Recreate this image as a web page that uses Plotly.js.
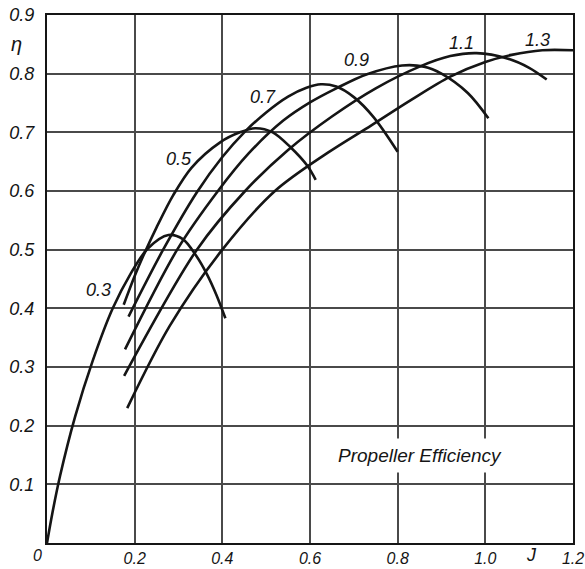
<!DOCTYPE html>
<html>
<head>
<meta charset="utf-8">
<script src="https://cdn.plot.ly/plotly-3.0.1.min.js"></script>
<style>
  html, body { margin: 0; padding: 0; background: #ffffff; }
  #chart { width: 585px; height: 569px; }
</style>
</head>
<body>
<div id="chart"></div>
<script>
// Propeller efficiency η against advance ratio J, one curve per pitch ratio.
const pitchRatios = ['0.3', '0.5', '0.7', '0.9', '1.1', '1.3'];

const J_03   = [0, 0.012, 0.03, 0.064, 0.104, 0.15, 0.19, 0.23, 0.277, 0.31, 0.34, 0.365, 0.387, 0.407];
const eta_03 = [0, 0.05, 0.115, 0.215, 0.31, 0.4, 0.458, 0.502, 0.525, 0.518, 0.49, 0.458, 0.422, 0.383];

const J_05   = [0.175, 0.2, 0.22, 0.25, 0.288, 0.33, 0.395, 0.44, 0.475, 0.515, 0.555, 0.594, 0.613];
const eta_05 = [0.406, 0.455, 0.49, 0.538, 0.593, 0.64, 0.683, 0.700, 0.707, 0.7, 0.675, 0.643, 0.619];

const J_07   = [0.186, 0.265, 0.342, 0.40, 0.45, 0.50, 0.55, 0.592, 0.625, 0.66, 0.70, 0.745, 0.80];
const eta_07 = [0.386, 0.5, 0.598, 0.658, 0.7, 0.734, 0.761, 0.776, 0.782, 0.778, 0.76, 0.726, 0.667];

const J_09   = [0.178, 0.297, 0.39, 0.46, 0.539, 0.60, 0.66, 0.73, 0.81, 0.86, 0.90, 0.96, 1.007];
const eta_09 = [0.33, 0.5, 0.6, 0.664, 0.72, 0.751, 0.775, 0.799, 0.814, 0.812, 0.80, 0.767, 0.724];

const J_11   = [0.176, 0.342, 0.452, 0.55, 0.65, 0.75, 0.85, 0.92, 0.98, 1.05, 1.10, 1.14];
const eta_11 = [0.285, 0.5, 0.6, 0.67, 0.727, 0.775, 0.812, 0.83, 0.835, 0.826, 0.81, 0.79];

const J_13   = [0.183, 0.28, 0.40, 0.52, 0.64, 0.74, 0.83, 0.92, 1.00, 1.06, 1.13, 1.2];
const eta_13 = [0.23, 0.37, 0.5, 0.6, 0.665, 0.712, 0.755, 0.795, 0.82, 0.832, 0.84, 0.84];

const jTicks    = [0, 0.2, 0.4, 0.6, 0.8, 1.0, 1.2];
const jLabels   = ['', '0.2', '0.4', '0.6', '0.8', '1.0', '1.2'];
const etaTicks  = [0.1, 0.2, 0.3, 0.4, 0.5, 0.6, 0.7, 0.8, 0.9];
const etaLabels = ['0.1', '0.2', '0.3', '0.4', '0.5', '0.6', '0.7', '0.8', '0.9'];

const curveJ   = [J_03, J_05, J_07, J_09, J_11, J_13];
const curveEta = [eta_03, eta_05, eta_07, eta_09, eta_11, eta_13];

const INK = '#151515';
const FONT = 'Liberation Sans Narrow, Liberation Sans, sans-serif';

const traces = pitchRatios.map((p, i) => ({
  type: 'scatter',
  mode: 'lines',
  name: p,
  x: curveJ[i],
  y: curveEta[i],
  line: { color: INK, width: 2.6, shape: 'spline', smoothing: 0.9 },
  hoverinfo: 'skip',
  showlegend: false
}));

// where each pitch-ratio tag sits next to its curve
const tagAt = {
  '0.3': [0.117, 0.431],
  '0.5': [0.300, 0.655],
  '0.7': [0.493, 0.760],
  '0.9': [0.706, 0.823],
  '1.1': [0.945, 0.852],
  '1.3': [1.120, 0.857]
};

const italic = (size) => ({ family: FONT, size: size, color: INK, style: 'italic' });

const annotations = pitchRatios.map(p => ({
  x: tagAt[p][0], y: tagAt[p][1], xref: 'x', yref: 'y',
  text: p, showarrow: false, font: italic(18)
}));

annotations.push(
  { x: 0.85, y: 0.149, xref: 'x', yref: 'y', text: 'Propeller Efficiency',
    showarrow: false, font: italic(19), bgcolor: '#ffffff', borderpad: 6 },
  { x: 0, y: 0, xref: 'x', yref: 'y', text: '0', showarrow: false,
    xanchor: 'center', yanchor: 'top', xshift: -10, yshift: -2, font: italic(16) },
  { x: 1.105, y: 0, xref: 'x', yref: 'y', text: 'J', showarrow: false,
    xanchor: 'center', yanchor: 'top', yshift: 0, font: italic(18) },
  { x: 0, y: 0.85, xref: 'x', yref: 'y', text: 'η', showarrow: false,
    xanchor: 'center', xshift: -31, font: italic(20) }
);

const axisCommon = {
  showline: true, mirror: true, linecolor: INK, linewidth: 2,
  showgrid: true, gridcolor: '#4a4a4a', gridwidth: 2,
  zeroline: false, ticks: '', fixedrange: true
};

const layout = {
  width: 585, height: 569,
  margin: { l: 47, r: 12, t: 15, b: 26, pad: 0 },
  paper_bgcolor: '#ffffff', plot_bgcolor: '#ffffff',
  xaxis: Object.assign({}, axisCommon, {
    range: [0, 1.2], tickmode: 'array', tickvals: jTicks, ticktext: jLabels,
    ticklabelstandoff: 0, tickfont: italic(16)
  }),
  yaxis: Object.assign({}, axisCommon, {
    range: [0, 0.9], tickmode: 'array', tickvals: etaTicks, ticktext: etaLabels,
    ticklabelstandoff: 7, tickfont: italic(18)
  }),
  annotations: annotations
};

Plotly.newPlot('chart', traces, layout, { displayModeBar: false, staticPlot: true });
</script>
</body>
</html>
